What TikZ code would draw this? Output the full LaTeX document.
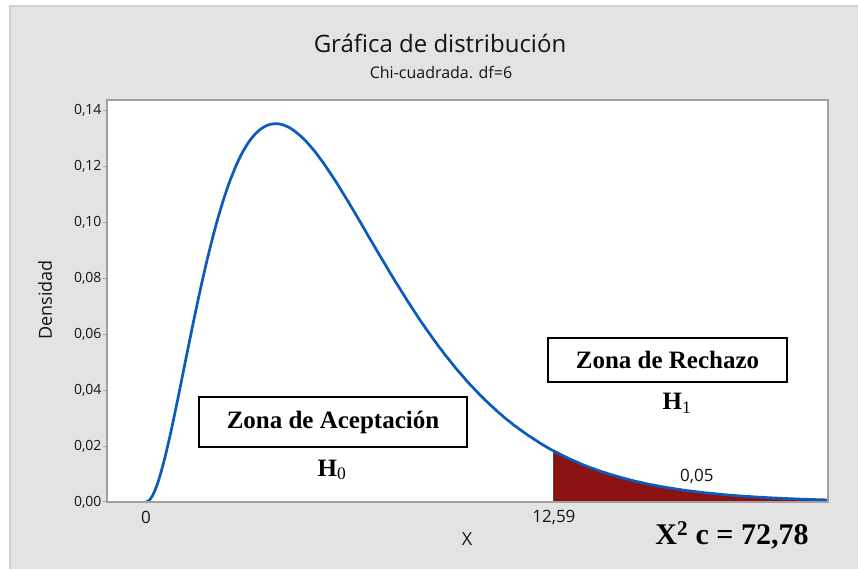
\documentclass[tikz,border=0pt]{standalone}
\usepackage{fontspec}
\setmainfont{Liberation Serif}
\newfontfamily\uifont{Open Sans}
\usetikzlibrary{positioning}

\definecolor{panelgray}{RGB}{227,227,227}
\definecolor{edgegray}{RGB}{210,210,210}
\definecolor{framegray}{RGB}{160,160,160}
\definecolor{curveblue}{RGB}{12,90,185}
\definecolor{tailred}{RGB}{140,18,18}
\definecolor{inkgray}{RGB}{20,20,20}

\begin{document}
\begin{tikzpicture}[
    x=1pt, y=1pt,
    declare function={chi(\t)=(\t*exp(-\t/4))^2/16;},
    title/.style={text=inkgray, font=\uifont\fontsize{24}{27}\selectfont},
    subtitle/.style={text=inkgray, font=\uifont\fontsize{16}{19}\selectfont},
    axlab/.style={text=inkgray, font=\uifont\fontsize{18}{20}\selectfont},
    ytick/.style={text=inkgray, font=\uifont\fontsize{14}{16}\selectfont, anchor=east, inner sep=1pt},
    xtick/.style={text=inkgray, font=\uifont\fontsize{17}{19}\selectfont},
    zone/.style={rectangle, draw=black, fill=white, line width=1.2pt, inner sep=0pt, font=\bfseries\fontsize{25}{28}\selectfont},
    hyp/.style={font=\bfseries\fontsize{25}{28}\selectfont}
]
\useasboundingbox (0,0) rectangle (858,569);

% Panel
\fill[panelgray] (9,0) rectangle (858,564);
\draw[edgegray, line width=2pt] (10,0) -- (10,563) -- (858,563);

% Titles
\node[title] (gtitle) at (440,526) {Gráfica de distribución};
\node[subtitle] (gsub) at (441,496) {Chi-cuadrada. df=6};

% Plot frame
\coordinate (frameSW) at (107,67);
\coordinate (frameNE) at (828,469);
\fill[white] (frameSW) rectangle (frameNE);

% Density curve and tail
\begin{scope}[shift={(146pt,67pt)}, x=32.4pt, y=2795pt]
  \fill[tailred] (12.59,0) -- plot[domain=12.59:21.05, samples=60] (\x,{chi(\x)}) -- (21.05,0) -- cycle;
  \draw[black!70, line width=1pt] (12.59,0) -- (12.59,{chi(12.59)});
  \draw[curveblue, line width=2.7pt, line join=round] plot[domain=0:21.05, samples=220, smooth] (\x,{chi(\x)});
  % y ticks
  \foreach \k/\lab in {0/{0,00},1/{0,02},2/{0,04},3/{0,06},4/{0,08},5/{0,10},6/{0,12},7/{0,14}} {
    \draw[framegray, line width=1pt] (-1.204,0.02*\k) -- ++(-4pt,0) node[ytick] (ylab\k) {\lab};
  }
  % x ticks
  \node[xtick] (xlab0) at (0,-0.0054) {0};
  \node[xtick] (xlabc) at (12.59,-0.0054) {12,59};
  \node[xtick] (alpha) at (17.0,0.0093) {0,05};
\end{scope}
\draw[framegray, line width=1.6pt] (frameSW) rectangle (frameNE);

% Axis labels
\node[axlab] (xaxis) at (467,30) {X};
\node[axlab, rotate=90] (yaxis) at (45,269) {Densidad};

% Zones
\node[zone, minimum width=268pt, minimum height=50pt] (acept) at (333,147) {Zona de Aceptación};
\node[hyp] (hzero) at (332,99) {H\textsubscript{\mdseries 0}};
\node[zone, minimum width=239pt, minimum height=44pt] (rechazo) at (667.5,209) {Zona de Rechazo};
\node[hyp] (hone) at (677,166) {H\textsubscript{\mdseries 1}};

% Statistic
\node[hyp, font=\bfseries\fontsize{30}{32}\selectfont] (stat) at (732,34) {X\textsuperscript{2} c = 72,78};

\end{tikzpicture}
\end{document}
